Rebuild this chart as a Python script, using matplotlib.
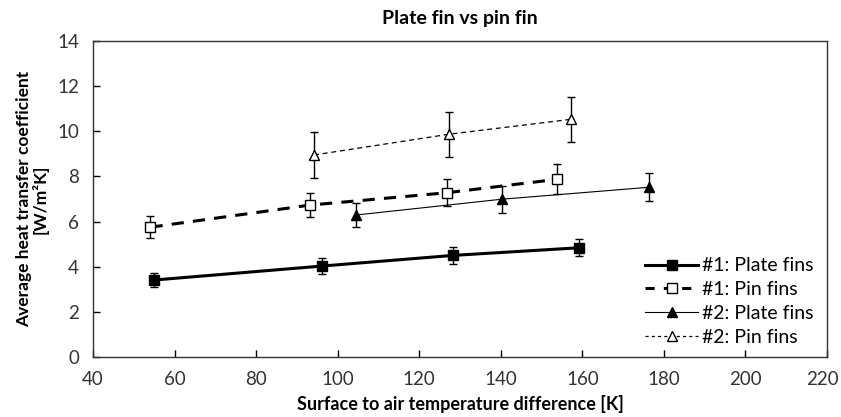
import matplotlib
matplotlib.use("Agg")
import matplotlib.pyplot as plt
import matplotlib.transforms as mtransforms
from matplotlib.lines import Line2D

plt.rcParams['font.family'] = ['Lato', 'DejaVu Sans']

# temperature difference [K], heat transfer coefficient [W/m2K], error
dt_plate1 = [55.0, 96.2, 128.2, 159.2]
h_plate1 = [3.41, 4.03, 4.50, 4.84]
err_plate1 = [0.29, 0.35, 0.37, 0.38]

dt_pin1 = [54.1, 93.2, 126.9, 153.7]
h_pin1 = [5.75, 6.73, 7.28, 7.87]
err_pin1 = [0.48, 0.53, 0.60, 0.66]

dt_plate2 = [104.5, 140.2, 176.4]
h_plate2 = [6.29, 6.99, 7.52]
err_plate2 = [0.55, 0.59, 0.62]

dt_pin2 = [94.2, 127.3, 157.2]
h_pin2 = [8.95, 9.87, 10.53]
err_pin2 = [1.0, 1.0, 0.99]

labels = ['#1: Plate fins', '#1: Pin fins', '#2: Plate fins', '#2: Pin fins']

fig = plt.figure(figsize=(8.41, 4.17), dpi=100)
ax = fig.add_axes([93/841, 60/417, 734/841, 316/417])

eb = dict(ecolor='black', elinewidth=1.0, capsize=2.6, capthick=1.0)

styles = [
    dict(color='black', lw=2.2, ls='-', marker='s', ms=7, mfc='black', mec='black'),
    dict(color='black', lw=2.2, ls=(0, (4, 3)), marker='s', ms=6.5, mfc='white',
         mec='black', mew=1.0),
    dict(color='black', lw=0.8, ls='-', marker='^', ms=7, mfc='black', mec='black'),
    dict(color='black', lw=0.9, ls=(0, (4, 3)), marker='^', ms=6.5, mfc='white',
         mec='black', mew=1.0),
]

series = [(dt_plate1, h_plate1, err_plate1), (dt_pin1, h_pin1, err_pin1),
          (dt_plate2, h_plate2, err_plate2), (dt_pin2, h_pin2, err_pin2)]
for (x, y, e), st in zip(series, styles):
    ax.errorbar(x, y, yerr=e, **st, **eb)

ax.set_xlim(40, 220)
ax.set_ylim(0, 14)
ax.set_xticks(range(40, 221, 20))
ax.set_yticks(range(0, 15, 2))
ax.tick_params(direction='in', length=5, width=1, labelsize=13.5,
               labelcolor='#333333', pad=10)
for s in ax.spines.values():
    s.set_linewidth(1.0)
    s.set_color('#333333')

# keep the last x tick label inside the figure
last = ax.get_xticklabels()[-1]
last.set_transform(last.get_transform() +
                   mtransforms.ScaledTranslation(-3/72, 0, fig.dpi_scale_trans))

ax.set_title('Plate fin vs pin fin', fontsize=14, fontweight='bold', pad=12)
ax.set_xlabel('Surface to air temperature difference [K]', fontsize=13,
              fontweight='bold', labelpad=5)
ax.set_ylabel('Average heat transfer coefficient\n[W/m\u00b2K]', fontsize=12.5,
              fontweight='bold', labelpad=6, linespacing=1.0)

# legend without error bars
handles = []
for st in styles:
    d = dict(st)
    if d['ls'] != '-':
        d['ls'] = (0, (3, 3)) if d['lw'] > 1.5 else (0, (2.5, 2.5))
    handles.append(Line2D([], [], **d))
leg = ax.legend(handles, labels, loc='lower right', frameon=False, fontsize=14,
                handlelength=2.7, handletextpad=0.2, labelspacing=0.35,
                bbox_to_anchor=(1.005, -0.02))

fig.savefig('out.png', dpi=100)
